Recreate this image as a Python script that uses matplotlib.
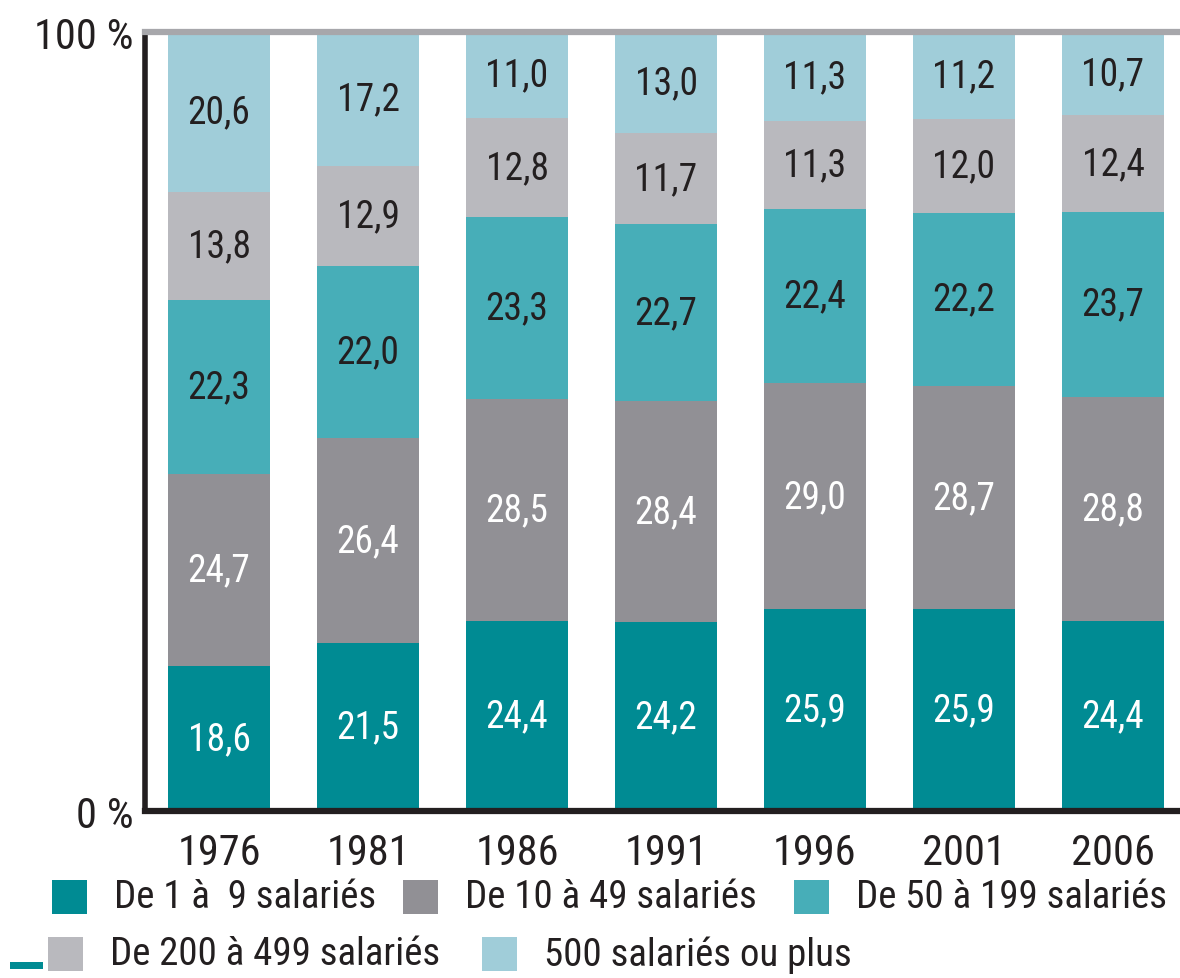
import numpy as np
import matplotlib
matplotlib.use("Agg")
from matplotlib import pyplot as plt
from matplotlib import font_manager
from matplotlib.patches import Rectangle

# police étroite si disponible
names = {f.name for f in font_manager.fontManager.ttflist}
narrow = [n for n in ["Liberation Sans Narrow", "Roboto Condensed", "Open Sans Condensed",
                      "Arial Narrow", "Nimbus Sans Narrow"] if n in names]
plt.rcParams['font.family'] = narrow + ['Liberation Sans', 'DejaVu Sans']
condensed = bool(narrow)

# données (%)
years = ["1976", "1981", "1986", "1991", "1996", "2001", "2006"]
s_1_9 = [18.6, 21.5, 24.4, 24.2, 25.9, 25.9, 24.4]
s_10_49 = [24.7, 26.4, 28.5, 28.4, 29.0, 28.7, 28.8]
s_50_199 = [22.3, 22.0, 23.3, 22.7, 22.4, 22.2, 23.7]
s_200_499 = [13.8, 12.9, 12.8, 11.7, 11.3, 12.0, 12.4]
s_500 = [20.6, 17.2, 11.0, 13.0, 11.3, 11.2, 10.7]
labels = ["De 1 à  9 salariés", "De 10 à 49 salariés", "De 50 à 199 salariés",
          "De 200 à 499 salariés", "500 salariés ou plus"]

series = [s_1_9, s_10_49, s_50_199, s_200_499, s_500]
colors = ["#008b93", "#919095", "#47aeb8", "#b9b9be", "#a0cdd9"]
txt_colors = ["white", "white", "#231f20", "#231f20", "#231f20"]
dark = "#231f20"

fs_bar = 27 if condensed else 24
fs_tick = 30.5 if condensed else 26
fs_leg = 28 if condensed else 22.5

fig = plt.figure(figsize=(11.8, 9.79), dpi=100)
ax = fig.add_axes([0.1229, 0.1706, 0.8771, 0.7957])

x = np.arange(len(years))
bottom = np.zeros(len(years))
for vals, c, tc in zip(series, colors, txt_colors):
    vals = np.array(vals)
    ax.bar(x, vals, bottom=bottom, width=0.685, color=c, linewidth=0)
    # étiquettes au centre de chaque segment
    for xi, b, v in zip(x, bottom, vals):
        ax.text(xi, b + v / 2, f"{v:.1f}".replace(".", ","), ha="center", va="center",
                fontsize=fs_bar, color=tc)
    bottom += vals

ax.set_xlim(-0.497, 6.45)
ax.set_ylim(0, 100)
ax.set_xticks(x)
ax.set_xticklabels(years, fontsize=fs_tick, color=dark)
ax.set_yticks([0, 100])
ax.set_yticklabels(["0 %", "100 %"], fontsize=fs_tick, color=dark)
ax.tick_params(axis="x", length=0, pad=15)
ax.tick_params(axis="y", length=0, pad=8)

# axes : gauche et bas noirs, haut gris
ax.spines["right"].set_visible(False)
ax.spines["left"].set_linewidth(4)
ax.spines["left"].set_color(dark)
ax.spines["bottom"].set_linewidth(4.5)
ax.spines["bottom"].set_color(dark)
ax.spines["top"].set_linewidth(4.5)
ax.spines["top"].set_color("#a7a7ab")

# légende manuelle sur deux lignes
W, H = 1180, 979
legend_pos = [(52, 898), (403, 898), (794, 898), (48, 955), (482, 955)]
for (px, py), lab, c in zip(legend_pos, labels, colors):
    fig.add_artist(Rectangle((px / W, (H - py - 17) / H), 35 / W, 34 / H,
                             transform=fig.transFigure, color=c, linewidth=0))
    fig.text((px + 62) / W, (H - py) / H, lab, fontsize=fs_leg, color=dark,
             ha="left", va="center")

# petit trait sarcelle en bas à gauche
fig.add_artist(Rectangle((10 / W, (H - 970) / H), 33 / W, 7 / H,
                         transform=fig.transFigure, color="#008b93", linewidth=0))

fig.savefig("out.png", dpi=100)
